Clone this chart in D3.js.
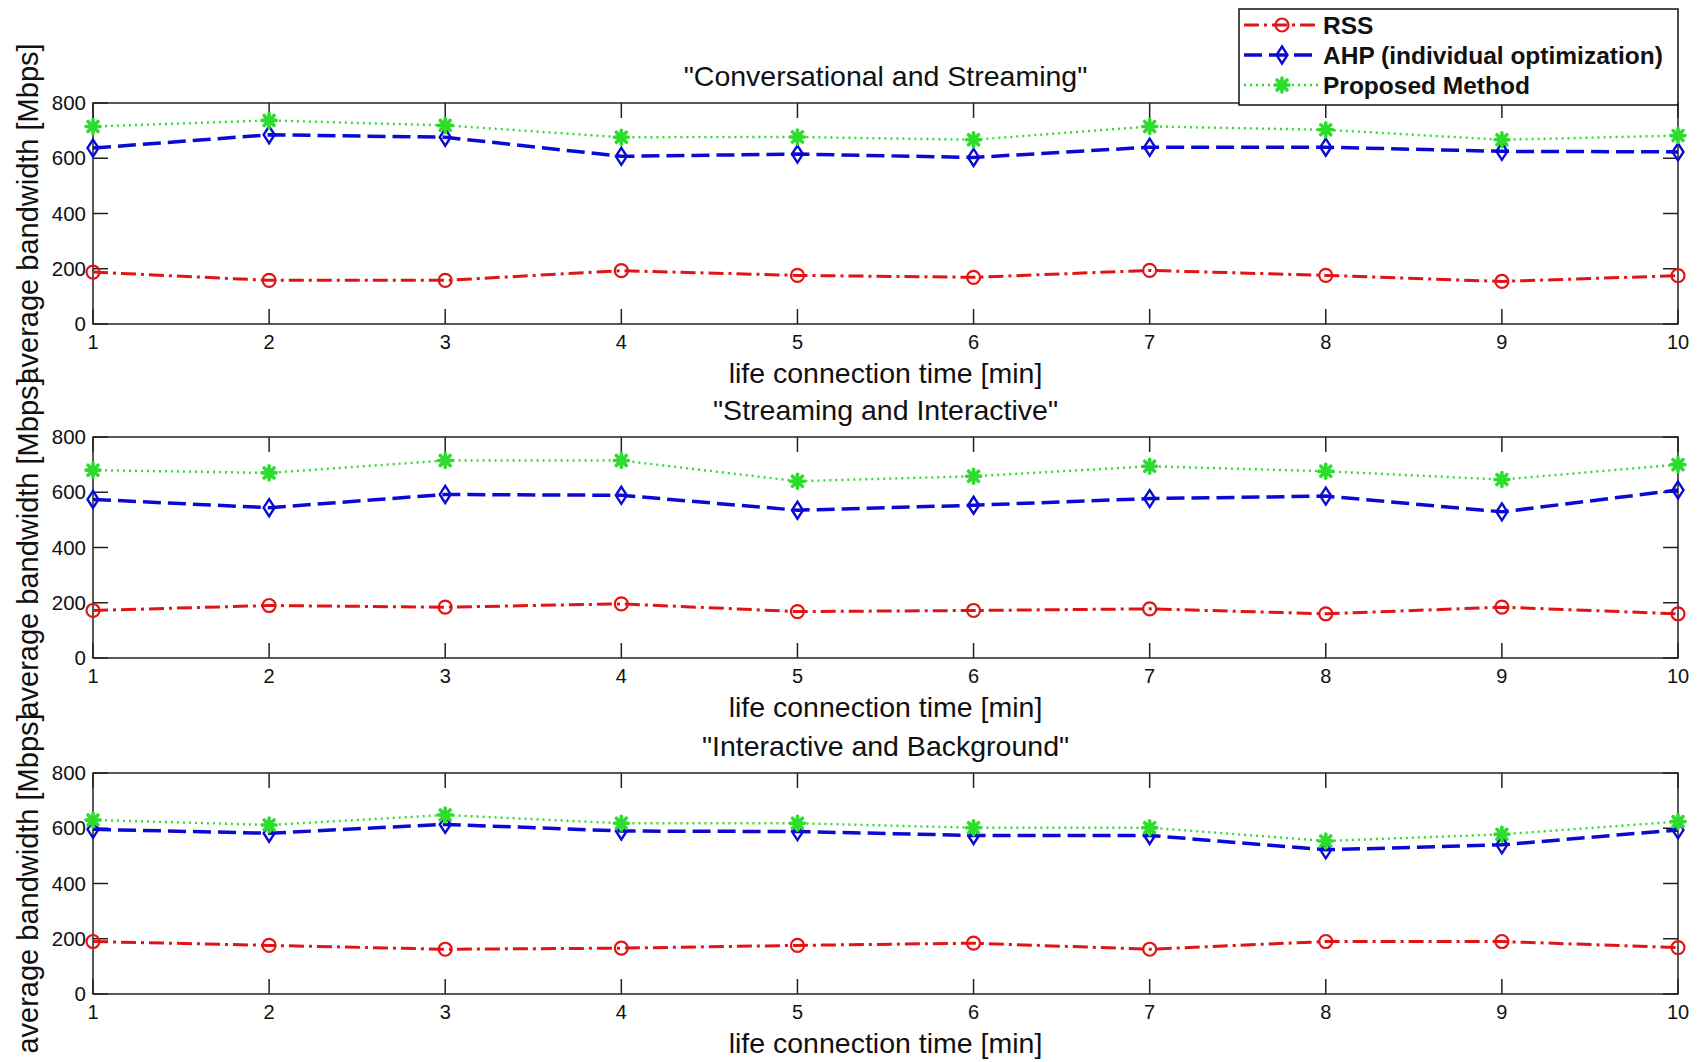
<!DOCTYPE html>
<html>
<head>
<meta charset="utf-8">
<script src="https://cdn.jsdelivr.net/npm/d3@7"></script>
<style>
  body { margin: 0; background: #fff; }
  svg text { font-family: "Liberation Sans", Arial, sans-serif; fill: #111; }
</style>
</head>
<body>
<svg id="chart" width="1700" height="1062"></svg>
<script>
// x values (minutes) and y ticks
var minutes = [1, 2, 3, 4, 5, 6, 7, 8, 9, 10];
var yTicks = [0, 200, 400, 600, 800];
var panelTitles = [
  '"Conversational and Streaming"',
  '"Streaming and Interactive"',
  '"Interactive and Background"'
];
var seriesNames = ["RSS", "AHP (individual optimization)", "Proposed Method"];

// panel 1: Conversational and Streaming
var rssConvStream = [188, 158, 158, 193, 176, 169, 194, 176, 154, 175];
var ahpConvStream = [637, 685, 676, 607, 615, 603, 640, 640, 625, 623];
var propConvStream = [715, 737, 719, 676, 677, 667, 715, 703, 667, 682];

// panel 2: Streaming and Interactive
var rssStreamInter = [172, 190, 184, 196, 168, 172, 178, 160, 184, 160];
var ahpStreamInter = [574, 544, 592, 589, 535, 553, 577, 586, 529, 608];
var propStreamInter = [680, 670, 715, 715, 640, 658, 694, 676, 646, 700];

// panel 3: Interactive and Background
var rssInterBack = [190, 176, 162, 166, 176, 184, 162, 190, 190, 168];
var ahpInterBack = [596, 582, 614, 590, 588, 574, 574, 522, 540, 594];
var propInterBack = [630, 612, 648, 618, 618, 602, 602, 554, 578, 624];

var panels = [
  { title: panelTitles[0], data: [rssConvStream, ahpConvStream, propConvStream] },
  { title: panelTitles[1], data: [rssStreamInter, ahpStreamInter, propStreamInter] },
  { title: panelTitles[2], data: [rssInterBack, ahpInterBack, propInterBack] }
];

// line styles per series (RSS, AHP, Proposed)
var styles = [
  { color: "#e01414", dash: "15,5,3,5", width: 3, marker: "circle" },
  { color: "#0a0ad2", dash: "18,7", width: 3.5, marker: "diamond" },
  { color: "#2edc2e", dash: "2,4", width: 2.4, marker: "star" }
];

var svg = d3.select("#chart");
var left = 93, right = 1678, plotH = 221;
var tops = [103, 437, 773];
var tickLen = 15;

var x = d3.scaleLinear().domain([1, 10]).range([left, right]);

function drawMarker(g, type, color) {
  if (type === "circle") {
    g.append("circle").attr("r", 6.5).attr("fill", "none")
      .attr("stroke", color).attr("stroke-width", 2.2);
  } else if (type === "diamond") {
    g.append("path").attr("d", "M0,-8.5L5.5,0L0,8.5L-5.5,0Z").attr("fill", "none")
      .attr("stroke", color).attr("stroke-width", 2.4);
  } else {
    g.append("path")
      .attr("d", "M0,-7L0,7M-7,0L7,0M-5,-5L5,5M-5,5L5,-5")
      .attr("stroke", color).attr("stroke-width", 3.6)
      .attr("stroke-linecap", "round");
  }
}

panels.forEach(function(p, i) {
  var top = tops[i], bottom = top + plotH;
  var y = d3.scaleLinear().domain([0, 800]).range([bottom, top]);
  var g = svg.append("g");

  // box and inward ticks
  g.append("rect")
    .attr("x", left).attr("y", top)
    .attr("width", right - left).attr("height", plotH)
    .attr("fill", "none").attr("stroke", "#222").attr("stroke-width", 1.5);

  minutes.forEach(function(m) {
    g.append("line").attr("x1", x(m)).attr("x2", x(m))
      .attr("y1", bottom).attr("y2", bottom - tickLen)
      .attr("stroke", "#222").attr("stroke-width", 1.5);
    g.append("line").attr("x1", x(m)).attr("x2", x(m))
      .attr("y1", top).attr("y2", top + tickLen)
      .attr("stroke", "#222").attr("stroke-width", 1.5);
    g.append("text").attr("x", x(m)).attr("y", bottom + 25)
      .attr("text-anchor", "middle").attr("font-size", 20).text(m);
  });

  yTicks.forEach(function(t) {
    g.append("line").attr("x1", left).attr("x2", left + tickLen)
      .attr("y1", y(t)).attr("y2", y(t))
      .attr("stroke", "#222").attr("stroke-width", 1.5);
    g.append("line").attr("x1", right).attr("x2", right - tickLen)
      .attr("y1", y(t)).attr("y2", y(t))
      .attr("stroke", "#222").attr("stroke-width", 1.5);
    g.append("text").attr("x", left - 7).attr("y", y(t))
      .attr("dy", "0.35em").attr("text-anchor", "end")
      .attr("font-size", 20.5).text(t);
  });

  // series
  var line = d3.line().x(function(d, j) { return x(minutes[j]); }).y(function(d) { return y(d); });
  p.data.forEach(function(vals, s) {
    var st = styles[s];
    g.append("path").datum(vals).attr("d", line)
      .attr("fill", "none").attr("stroke", st.color)
      .attr("stroke-width", st.width).attr("stroke-dasharray", st.dash);
    vals.forEach(function(v, j) {
      var mg = g.append("g").attr("transform", "translate(" + x(minutes[j]) + "," + y(v) + ")");
      drawMarker(mg, st.marker, st.color);
    });
  });

  // labels
  g.append("text").attr("x", (left + right) / 2).attr("y", top - 17)
    .attr("text-anchor", "middle").attr("font-size", 28.5).text(p.title);
  g.append("text").attr("x", (left + right) / 2).attr("y", bottom + 59)
    .attr("text-anchor", "middle").attr("font-size", 28.5).text("life connection time [min]");
  g.append("text")
    .attr("transform", "translate(38," + (top + plotH / 2) + ") rotate(-90)")
    .attr("text-anchor", "middle").attr("font-size", 29)
    .text("average bandwidth [Mbps]");
});

// legend
var lg = svg.append("g");
lg.append("rect").attr("x", 1239).attr("y", 9).attr("width", 439).attr("height", 96)
  .attr("fill", "#fff").attr("stroke", "#111").attr("stroke-width", 1.5);
var legendRows = [25, 55, 85];
seriesNames.forEach(function(name, s) {
  var st = styles[s], ry = legendRows[s];
  lg.append("line").attr("x1", 1244).attr("x2", 1318).attr("y1", ry).attr("y2", ry)
    .attr("stroke", st.color).attr("stroke-width", st.width)
    .attr("stroke-dasharray", st.dash);
  var mg = lg.append("g").attr("transform", "translate(1282," + ry + ")");
  drawMarker(mg, st.marker, st.color);
  lg.append("text").attr("x", 1323).attr("y", ry).attr("dy", "0.36em")
    .attr("font-size", 24.5).attr("font-weight", "bold").text(name);
});
</script>
</body>
</html>
